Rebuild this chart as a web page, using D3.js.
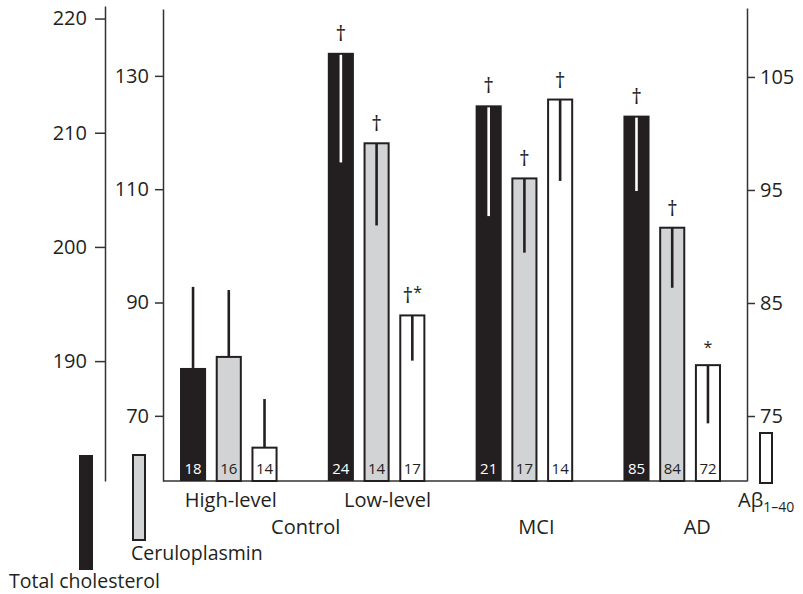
<!DOCTYPE html>
<html>
<head>
<meta charset="utf-8">
<script src="https://cdn.jsdelivr.net/npm/d3@7"></script>
<style>
  body { margin: 0; background: #fff; }
  svg text { font-family: "Open Sans", sans-serif; fill: #231f20; }
</style>
</head>
<body>
<svg id="chart" width="803" height="594"></svg>
<script>
// Groups and their parent labels
const groups = ["High-level", "Low-level", "MCI", "AD"];
const parents = ["Control", "MCI", "AD"];
const series = ["chol", "cer", "ab"];

// Total cholesterol (left outer axis)
const cholMean = [189.4, 217.0, 212.4, 211.5];
const cholSD = [7.1, 9.6, 9.7, 6.6];
const cholN = [18, 24, 21, 85];
const cholMark = ["", "†", "†", "†"];
const cholTicks = [190, 200, 210, 220];

// Ceruloplasmin (left inner axis)
const cerMean = [80.4, 118.1, 111.9, 103.2];
const cerSD = [11.8, 14.5, 13.1, 10.6];
const cerN = [16, 14, 17, 84];
const cerMark = ["", "†", "†", "†"];
const cerTicks = [70, 90, 110, 130];

// Abeta 1-40 (right axis)
const abMean = [72.2, 83.9, 103.0, 79.5];
const abSD = [4.3, 4.0, 7.2, 5.15];
const abN = [14, 17, 14, 72];
const abMark = ["", "†*", "†", "*"];
const abTicks = [75, 85, 95, 105];

// error bars drawn above the bar for the first group, inside it for the rest
const errDir = ["up", "down", "down", "down"];

const svg = d3.select("#chart");
const base = 481;
const ink = "#231f20";
const grey = "#d1d3d4";

// scales
const x = d3.scaleBand().domain(groups).range([180, 721]).paddingInner(0.34);
const xs = d3.scaleBand().domain(series).range([0, x.bandwidth()]).paddingInner(0.27);

const yChol = d3.scaleLinear().domain([179.5, 221.1]).range([base, 6]);
const yCer = d3.scaleLinear().domain([58.5, 141.8]).range([base, 9]);
const yAb = d3.scaleLinear().domain([69.25, 111.1]).range([base, 8]);

const spec = {
  chol: {y: yChol, mean: cholMean, sd: cholSD, n: cholN, mark: cholMark, fill: ink, text: "#fff", err: "#fff"},
  cer: {y: yCer, mean: cerMean, sd: cerSD, n: cerN, mark: cerMark, fill: grey, text: ink, err: ink},
  ab: {y: yAb, mean: abMean, sd: abSD, n: abN, mark: abMark, fill: "#fff", text: ink, err: ink}
};

// axes
function styleAxis(g) {
  g.attr("font-family", null).attr("font-size", null);
  g.select(".domain").attr("stroke", "#333").attr("stroke-width", 1.5);
  g.selectAll(".tick line").attr("stroke", "#333").attr("stroke-width", 1.5);
  g.selectAll(".tick text").attr("font-size", 20).attr("fill", ink);
}

svg.append("g")
  .attr("transform", "translate(105,0)")
  .call(d3.axisLeft(yChol).tickValues(cholTicks).tickSize(10).tickSizeOuter(0).tickPadding(8))
  .call(styleAxis);

svg.append("g")
  .attr("transform", "translate(163,0)")
  .call(d3.axisLeft(yCer).tickValues(cerTicks).tickSize(8).tickSizeOuter(0).tickPadding(6))
  .call(styleAxis);

svg.append("g")
  .attr("transform", "translate(747,0)")
  .call(d3.axisRight(yAb).tickValues(abTicks).tickSize(8).tickSizeOuter(0).tickPadding(5))
  .call(styleAxis);

// baseline
svg.append("line")
  .attr("x1", 163).attr("x2", 747)
  .attr("y1", base).attr("y2", base)
  .attr("stroke", "#333").attr("stroke-width", 1.5);

// bars
series.forEach(s => {
  const c = spec[s];
  const g = svg.append("g");
  groups.forEach((grp, i) => {
    const bx = x(grp) + xs(s);
    const bw = xs.bandwidth();
    const top = c.y(c.mean[i]);
    const cx = bx + bw / 2;
    const solid = s === "chol";

    g.append("rect")
      .attr("x", solid ? bx : bx + 1).attr("y", top)
      .attr("width", solid ? bw : bw - 2).attr("height", base - top)
      .attr("fill", c.fill)
      .attr("stroke", solid ? "none" : ink).attr("stroke-width", 2);

    // error bar
    if (errDir[i] === "up") {
      g.append("line")
        .attr("x1", cx).attr("x2", cx)
        .attr("y1", top).attr("y2", c.y(c.mean[i] + c.sd[i]))
        .attr("stroke", ink).attr("stroke-width", 2.6);
    } else {
      g.append("line")
        .attr("x1", cx).attr("x2", cx)
        .attr("y1", top + (solid ? 2 : 0)).attr("y2", c.y(c.mean[i] - c.sd[i]))
        .attr("stroke", c.err).attr("stroke-width", 2.6);
    }

    // n label
    g.append("text")
      .attr("x", cx).attr("y", base - 7)
      .attr("text-anchor", "middle")
      .attr("font-size", 15)
      .style("fill", c.text)
      .text(c.n[i]);

    // significance mark
    if (c.mark[i]) {
      const t = g.append("text")
        .attr("x", cx).attr("y", top - 12)
        .attr("text-anchor", "middle")
        .attr("font-size", 21);
      const m = c.mark[i];
      if (m.includes("†")) t.append("tspan").text("†");
      if (m.includes("*")) t.append("tspan").attr("font-size", 16).attr("dy", m.includes("†") ? -5 : 0).text("*");
    }
  });
});

// group labels
const labelNudge = {"High-level": 2, "Low-level": 11, "MCI": 12, "AD": 25};
["High-level", "Low-level"].forEach(grp => {
  svg.append("text")
    .attr("x", x(grp) + x.bandwidth() / 2 + labelNudge[grp])
    .attr("y", 507)
    .attr("text-anchor", "middle")
    .attr("font-size", 20)
    .text(grp);
});
parents.forEach(p => {
  const cx = p === "Control"
    ? (x("High-level") + x("Low-level") + x.bandwidth()) / 2 + 3
    : x(p) + x.bandwidth() / 2 + labelNudge[p];
  svg.append("text")
    .attr("x", cx).attr("y", 534)
    .attr("text-anchor", "middle")
    .attr("font-size", 20)
    .text(p);
});

// legend keys
svg.append("rect").attr("x", 79).attr("y", 455).attr("width", 14).attr("height", 115).attr("fill", ink);
svg.append("rect").attr("x", 133).attr("y", 455).attr("width", 12).attr("height", 85)
  .attr("fill", grey).attr("stroke", ink).attr("stroke-width", 2);
svg.append("rect").attr("x", 760).attr("y", 433).attr("width", 12).attr("height", 50)
  .attr("fill", "#fff").attr("stroke", ink).attr("stroke-width", 2);

svg.append("text").attr("x", 9).attr("y", 588).attr("font-size", 19.5).text("Total cholesterol");
svg.append("text").attr("x", 131).attr("y", 560).attr("font-size", 19.5).text("Ceruloplasmin");
const ab = svg.append("text").attr("x", 738).attr("y", 507).attr("font-size", 20);
ab.append("tspan").text("Aβ");
ab.append("tspan").attr("font-size", 14).attr("dy", 5).text("1–40");
</script>
</body>
</html>
